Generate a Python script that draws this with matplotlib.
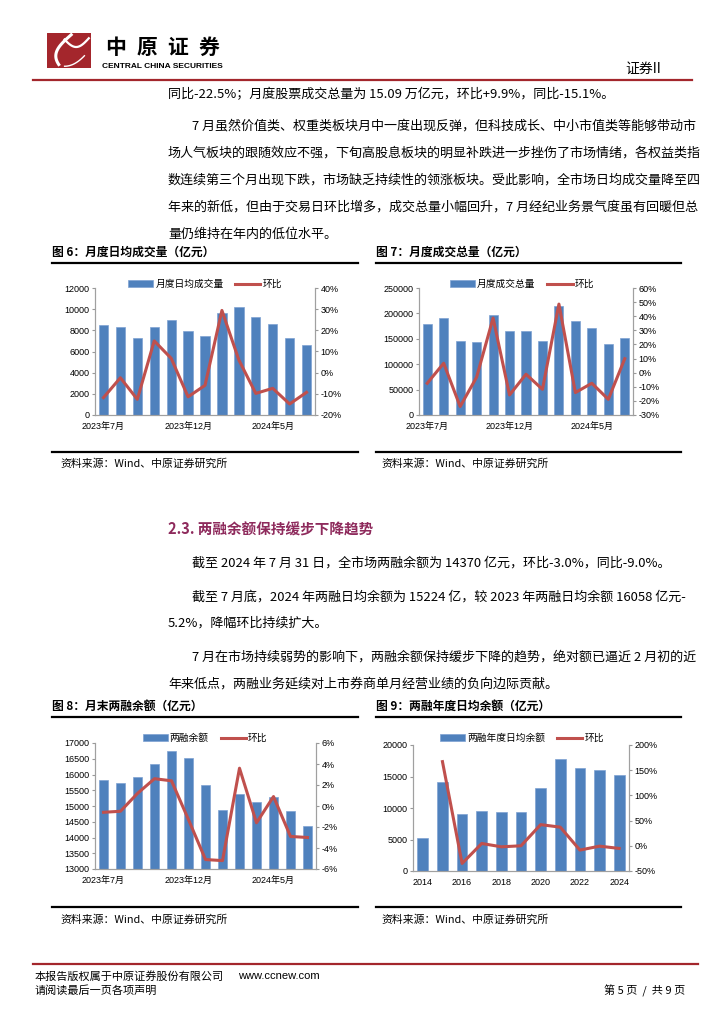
#python3.12
"""
Page 5 of a broker report: 4 combo charts (bar + MoM line) with body text
"""
import numpy as np
import matplotlib
matplotlib.use('Agg')
import matplotlib.pyplot as plt
from matplotlib.patches import Rectangle

#1: fonts
CJK = ['Noto Sans CJK SC', 'DejaVu Sans']
LAT = ['Liberation Sans', 'Noto Sans CJK SC']
plt.rcParams['font.family'] = CJK

BLUE = '#4F81BD'
RED = '#C0504D'
HEAD_RED = '#A3262C'

#2: data
months = ['2023-07', '2023-08', '2023-09', '2023-10', '2023-11', '2023-12', '2024-01',
          '2024-02', '2024-03', '2024-04', '2024-05', '2024-06', '2024-07']
month_ticks = [0, 5, 10]
month_tick_labels = ['2023年7月', '2023年12月', '2024年5月']

daily_turnover = [8550, 8300, 7270, 8340, 8940, 7900, 7450, 9630, 10200, 9220, 8560, 7300, 6600]
daily_turnover_mom = [-11.8, -2.4, -12.6, 15.0, 6.8, -11.4, -6.0, 29.4, 6.0, -9.8, -7.4, -14.8, -9.3]

total_turnover = [179600, 190800, 146000, 142800, 196000, 165800, 164500, 146000, 215100,
                  184900, 171000, 138800, 151500]
total_turnover_mom = [-7.5, 6.7, -24.0, -3.2, 38.7, -15.8, -1.1, -11.8, 48.6, -14.1, -7.5, -18.9, 9.9]

margin_balance = [15818, 15744, 15923, 16346, 16736, 16525, 15681, 14879, 15396, 15142, 15280, 14847, 14370]
margin_balance_mom = [-0.6, -0.5, 1.2, 2.6, 2.4, -1.3, -5.1, -5.2, 3.6, -1.6, 0.9, -2.9, -3.0]

years = ['2014', '2015', '2016', '2017', '2018', '2019', '2020', '2021', '2022', '2023', '2024']
year_ticks = [0, 2, 4, 6, 8, 10]
year_tick_labels = ['2014', '2016', '2018', '2020', '2022', '2024']
annual_margin_avg = [5300, 14050, 9100, 9580, 9320, 9320, 13100, 17790, 16320, 16058, 15224]
annual_margin_mom = [np.nan, 167, -35, 4.6, -2.0, 0.0, 42, 37, -8.5, -0.7, -5.2]

#3: page in pixel coords
W, H = 724, 1024
fig = plt.figure(figsize=(W / 100, H / 100), dpi=100)
fig.patch.set_facecolor('white')


def fx(x):
    return x / W


def fy(y):
    return 1 - y / H


def txt(x, y, s, size, **kw):
    fig.text(fx(x), fy(y), s, fontsize=size, va='center', **kw)


def hline(x0, x1, y, color, lw):
    fig.add_artist(plt.Line2D([fx(x0), fx(x1)], [fy(y), fy(y)], color=color, lw=lw,
                              transform=fig.transFigure))


#3.1: header
logo = fig.add_axes([fx(47), fy(68), 44 / W, 35 / H])
logo.set_xlim(0, 1)
logo.set_ylim(0, 1)
logo.axis('off')
logo.add_patch(Rectangle((0, 0), 1, 1, color='#A4262C'))
t = np.linspace(0, 1, 50)
logo.plot(0.55 - 0.35 * np.sin(t * 2.2), 0.95 - 0.85 * t, color='white', lw=2.2)
logo.plot(0.95 - 0.55 * t, 0.85 - 0.25 * np.sin(t * 3.0), color='white', lw=1.6)
logo.plot(0.40 + 0.45 * t, 0.05 + 0.30 * t ** 2, color='white', lw=1.0)

for i, ch in enumerate('中原证券'):
    txt(116 + i * 31, 47, ch, 15, ha='center', fontweight='heavy', family=CJK)
txt(102, 67, 'CENTRAL CHINA SECURITIES', 6.0, fontweight='bold', family=LAT)
txt(625, 69, '证券II', 10, family=CJK)
hline(33, 692, 80, HEAD_RED, 1.6)

#3.2: body text
BODY = 9.4
txt(168, 95, '同比-22.5%；月度股票成交总量为 15.09 万亿元，环比+9.9%，同比-15.1%。', BODY)
para = [
    (192, 126, '7 月虽然价值类、权重类板块月中一度出现反弹，但科技成长、中小市值类等能够带动市'),
    (168, 153, '场人气板块的跟随效应不强，下旬高股息板块的明显补跌进一步挫伤了市场情绪，各权益类指'),
    (168, 180, '数连续第三个月出现下跌，市场缺乏持续性的领涨板块。受此影响，全市场日均成交量降至四'),
    (168, 207, '年来的新低，但由于交易日环比增多，成交总量小幅回升，7 月经纪业务景气度虽有回暖但总'),
    (168, 234, '量仍维持在年内的低位水平。'),
]
for x, y, s in para:
    txt(x, y, s, BODY)

txt(168, 530, '2.3. 两融余额保持缓步下降趋势', 10.5, fontweight='bold', color='#8E2A5C')
para2 = [
    (192, 563, '截至 2024 年 7 月 31 日，全市场两融余额为 14370 亿元，环比-3.0%，同比-9.0%。'),
    (192, 597, '截至 7 月底，2024 年两融日均余额为 15224 亿，较 2023 年两融日均余额 16058 亿元-'),
    (168, 623, '5.2%，降幅环比持续扩大。'),
    (192, 657, '7 月在市场持续弱势的影响下，两融余额保持缓步下降的趋势，绝对额已逼近 2 月初的近'),
    (168, 684, '年来低点，两融业务延续对上市券商单月经营业绩的负向边际贡献。'),
]
for x, y, s in para2:
    txt(x, y, s, BODY)

#3.3: captions, rules and sources
txt(52, 252, '图 6：月度日均成交量（亿元）', 8.5, fontweight='bold')
txt(376, 252, '图 7：月度成交总量（亿元）', 8.5, fontweight='bold')
txt(52, 706, '图 8：月末两融余额（亿元）', 8.5, fontweight='bold')
txt(376, 706, '图 9：两融年度日均余额（亿元）', 8.5, fontweight='bold')
for y in (263, 452, 717, 907):
    hline(52, 358, y, 'black', 1.6)
    hline(376, 681, y, 'black', 1.6)
for y in (464, 920):
    txt(60, y, '资料来源：Wind、中原证券研究所', 7.8, family=CJK)
    txt(381, y, '资料来源：Wind、中原证券研究所', 7.8, family=CJK)

#3.4: footer
hline(33, 698, 964, HEAD_RED, 1.6)
txt(35, 976, '本报告版权属于中原证券股份有限公司', 8.0)
txt(238, 976, 'www.ccnew.com', 8.0, family=LAT)
txt(35, 991, '请阅读最后一页各项声明', 8.0)
txt(685, 991, '第 5 页  /  共 9 页', 8.0, ha='right')


#4: combo charts
def combo(l, r, t, b, bars, line, bar_name, ylim, ystep, y2lim, y2step,
          ticks, tick_labels, leg_xy):
    ax = fig.add_axes([fx(l), fy(b), (r - l) / W, (b - t) / H])
    x = np.arange(len(bars))
    ax.bar(x, bars, width=0.55, color=BLUE, edgecolor='#7EA2D2', linewidth=0.5,
           label=bar_name, zorder=2)
    ax.set_xlim(-0.5, len(bars) - 0.5)
    ax.set_ylim(*ylim)
    ax.set_yticks(np.arange(ylim[0], ylim[1] + 1, ystep))
    ax.set_xticks(ticks)
    ax.set_xticklabels(tick_labels, family=LAT, fontsize=6.5)
    ax.tick_params(axis='x', length=0, pad=5)
    ax.tick_params(axis='y', length=2.5, pad=1.5, labelsize=6.5, color='#999999')
    for lab in ax.get_yticklabels():
        lab.set_family(LAT)

    ax2 = ax.twinx()
    ax2.plot(x, line, color=RED, lw=2.2, label='环比')
    ax2.set_ylim(*y2lim)
    ax2.set_yticks(np.arange(y2lim[0], y2lim[1] + 1, y2step))
    ax2.set_yticklabels(['%d%%' % v for v in ax2.get_yticks()], family=LAT)
    ax2.tick_params(axis='y', length=2.5, pad=1.5, labelsize=6.5, color='#999999')

    for a in (ax, ax2):
        a.spines['top'].set_visible(False)
        for s in ('left', 'right', 'bottom'):
            a.spines[s].set_color('#A0A0A0')
            a.spines[s].set_linewidth(0.8)
    ax.set_facecolor('none')

    h1, l1 = ax.get_legend_handles_labels()
    h2, l2 = ax2.get_legend_handles_labels()
    ax2.legend(h1 + h2, l1 + l2, loc='center', bbox_to_anchor=(fx(leg_xy[0]), fy(leg_xy[1])),
               bbox_transform=fig.transFigure, ncol=2, frameon=False, fontsize=7,
               handlelength=2.6, handleheight=0.6, columnspacing=1.2, handletextpad=0.2)
    return ax


combo(95, 315, 288, 415, daily_turnover, daily_turnover_mom, '月度日均成交量',
      (0, 12000), 2000, (-20, 40), 10, month_ticks, month_tick_labels, (205, 284))
combo(419, 633, 288, 415, total_turnover, total_turnover_mom, '月度成交总量',
      (0, 250000), 50000, (-30, 60), 10, month_ticks, month_tick_labels, (522, 284))
combo(95, 316, 743, 869, margin_balance, margin_balance_mom, '两融余额',
      (13000, 17000), 500, (-6, 6), 2, month_ticks, month_tick_labels, (205, 738))
combo(413, 629, 745, 871, annual_margin_avg, annual_margin_mom, '两融年度日均余额',
      (0, 20000), 5000, (-50, 200), 50, year_ticks, year_tick_labels, (522, 738))

fig.savefig('out.png', dpi=100)
